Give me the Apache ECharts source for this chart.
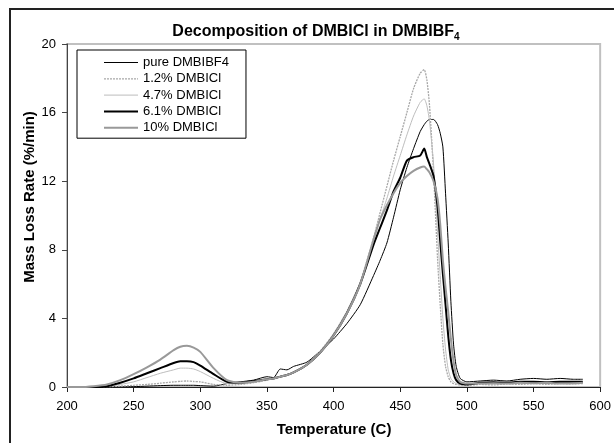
<!DOCTYPE html>
<html>
<head>
<meta charset="utf-8">
<script src="https://cdn.jsdelivr.net/npm/echarts@6/dist/echarts.min.js"></script>
<style>
  html, body { margin: 0; padding: 0; background: #fff; }
  #main { width: 614px; height: 443px; }
</style>
</head>
<body>
<div id="main"></div>
<script>
// temperature (C)
const temps = [200, 210, 220, 230, 240, 250, 260, 270, 280, 285,
  290, 295, 300, 310, 320, 330, 340, 350, 355, 360,
  365, 370, 380, 390, 400, 410, 420, 430, 435, 440,
  445, 450, 455, 460, 465, 468, 470, 472, 475, 478,
  480, 482, 484, 486, 488, 490, 492, 495, 500, 510,
  520, 530, 540, 550, 560, 570, 580, 587]

// mass loss rate (%/min)
const pure = [0, 0, 0, 0, 0.01, 0.02, 0.05, 0.08, 0.1, 0.1,
  0.1, 0.1, 0.08, 0.05, 0.2, 0.3, 0.4, 0.6, 0.55, 1.05,
  1.0, 1.2, 1.45, 2.1, 2.8, 3.7, 4.8, 6.5, 7.4, 8.4,
  9.9, 11.5, 12.8, 13.9, 14.9, 15.3, 15.5, 15.6, 15.6, 15.3,
  14.8, 14.0, 11.3, 8.4, 5.0, 2.5, 1.2, 0.5, 0.3, 0.35,
  0.4, 0.35, 0.45, 0.5, 0.45, 0.5, 0.45, 0.45]
const dmbicl12 = [0, 0, 0, 0.02, 0.05, 0.1, 0.15, 0.22, 0.3, 0.33,
  0.35, 0.32, 0.3, 0.15, 0.1, 0.15, 0.25, 0.4, 0.5, 0.6,
  0.7, 0.85, 1.3, 2.1, 3.1, 4.4, 6.1, 8.7, 10.2, 11.7,
  13.2, 14.6, 16.0, 17.4, 18.3, 18.5, 17.9, 16.4, 12.5, 7.5,
  4.8, 2.5, 1.2, 0.6, 0.3, 0.2, 0.15, 0.12, 0.1, 0.15,
  0.12, 0.18, 0.15, 0.2, 0.15, 0.2, 0.18, 0.2]
const dmbicl47 = [0, 0, 0, 0.05, 0.15, 0.3, 0.55, 0.8, 1.0, 1.1,
  1.1, 1.05, 0.9, 0.5, 0.2, 0.2, 0.3, 0.45, 0.5, 0.6,
  0.7, 0.85, 1.3, 2.1, 3.1, 4.4, 6.1, 8.5, 9.8, 11.0,
  12.3, 13.5, 14.7, 15.8, 16.6, 16.8, 16.4, 15.5, 13.0, 9.0,
  6.5, 4.0, 2.2, 1.0, 0.5, 0.3, 0.2, 0.15, 0.15, 0.2,
  0.18, 0.2, 0.22, 0.2, 0.22, 0.25, 0.2, 0.22]
const dmbicl61 = [0, 0, 0, 0.05, 0.25, 0.5, 0.8, 1.1, 1.4, 1.5,
  1.5, 1.45, 1.25, 0.75, 0.3, 0.25, 0.35, 0.45, 0.5, 0.6,
  0.7, 0.85, 1.3, 2.0, 3.0, 4.3, 6.0, 8.3, 9.3, 10.3,
  11.4, 12.2, 13.2, 13.4, 13.5, 13.9, 13.4, 13.0, 12.3, 10.5,
  8.5, 6.6, 4.8, 3.0, 1.6, 0.8, 0.4, 0.2, 0.15, 0.25,
  0.28, 0.25, 0.3, 0.3, 0.28, 0.3, 0.3, 0.3]
const dmbicl10 = [0, 0, 0.05, 0.15, 0.4, 0.75, 1.15, 1.6, 2.15, 2.35,
  2.4, 2.3, 2.05, 1.1, 0.4, 0.25, 0.3, 0.45, 0.5, 0.6,
  0.7, 0.85, 1.3, 2.0, 3.0, 4.3, 6.0, 8.6, 9.8, 10.6,
  11.3, 11.9, 12.3, 12.6, 12.8, 12.85, 12.7, 12.5, 12.0, 11.0,
  9.5, 7.4, 5.8, 4.4, 2.8, 1.5, 0.7, 0.3, 0.2, 0.2,
  0.22, 0.2, 0.25, 0.22, 0.25, 0.2, 0.22, 0.25]

const names = ['pure DMBIBF4', '1.2% DMBICl', '4.7% DMBICl', '6.1% DMBICl', '10% DMBICl']
const font = 'Liberation Sans, Arial, sans-serif'

// line look of each series, same order as names
const styles = [
  { color: '#000', width: 1 },
  { color: '#a8a8a8', width: 1.3, type: [2, 1] },
  { color: '#bdbdbd', width: 1 },
  { color: '#000', width: 2 },
  { color: '#999', width: 2 }
]
const values = [pure, dmbicl12, dmbicl47, dmbicl61, dmbicl10]

function pairs(arr) {
  return temps.map((t, i) => [t, arr[i]])
}

const myChart = echarts.init(document.getElementById('main'))

const option = {
  animation: false,
  backgroundColor: '#fff',
  textStyle: { fontFamily: font },
  grid: {
    left: 67, right: 13, top: 44, bottom: 56,
    show: true,
    borderColor: '#c0c0c0',
    borderWidth: 2
  },
  legend: {
    orient: 'vertical',
    left: 77, top: 50,
    padding: [6, 17, 4, 26],
    itemWidth: 34, itemHeight: 14, itemGap: 3.3,
    borderColor: '#000', borderWidth: 1,
    backgroundColor: '#fff',
    itemStyle: { opacity: 0 },
    textStyle: { fontSize: 13, color: '#000', fontFamily: font },
    data: names.map((n, i) => ({ name: n, lineStyle: Object.assign({}, styles[i]) }))
  },
  xAxis: {
    type: 'value',
    min: 200, max: 600, interval: 50,
    axisLine: { lineStyle: { color: '#222', width: 1 } },
    axisTick: { show: true, length: 5, lineStyle: { color: '#222' } },
    axisLabel: { fontSize: 13, color: '#000', margin: 13 },
    splitLine: { show: false }
  },
  yAxis: {
    type: 'value',
    min: 0, max: 20, interval: 4,
    axisLine: { show: true, lineStyle: { color: '#444', width: 1 } },
    axisTick: { show: true, length: 5, lineStyle: { color: '#444' } },
    axisLabel: { fontSize: 13, color: '#000', margin: 11 },
    splitLine: { show: false }
  },
  graphic: [
    {
      type: 'rect', silent: true, z: 100,
      shape: { x: 10, y: 9, width: 640, height: 480 },
      style: { fill: null, stroke: '#222', lineWidth: 2 }
    },
    {
      type: 'text', x: 316, y: 32, z: 100,
      style: {
        text: 'Decomposition of DMBICl in DMBIBF{s|4}',
        font: 'bold 16px ' + font,
        fill: '#000',
        textAlign: 'center', textVerticalAlign: 'middle',
        rich: { s: { fontSize: 10, fontWeight: 'bold', padding: [10, 0, 0, 0] } }
      }
    },
    {
      type: 'text', x: 334, y: 430, z: 100,
      style: {
        text: 'Temperature (C)', font: 'bold 15px ' + font, fill: '#000',
        textAlign: 'center', textVerticalAlign: 'middle'
      }
    },
    {
      type: 'text', x: 30, y: 197, rotation: Math.PI / 2, z: 100,
      style: {
        text: 'Mass Loss Rate (%/min)', font: 'bold 15px ' + font, fill: '#000',
        textAlign: 'center', textVerticalAlign: 'middle'
      }
    }
  ],
  series: names.map((n, i) => ({
    name: n, type: 'line', symbol: 'none', smooth: 0.2,
    lineStyle: styles[i], itemStyle: { color: styles[i].color },
    data: pairs(values[i])
  }))
}
myChart.setOption(option)
</script>
</body>
</html>
